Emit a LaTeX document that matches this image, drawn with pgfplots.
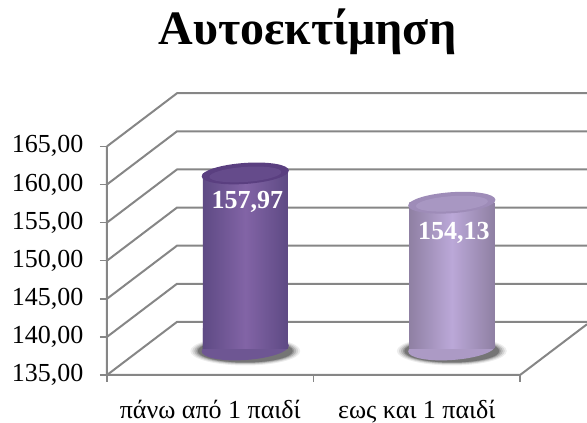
\documentclass[border=0pt]{standalone}
\usepackage{fontspec}
\setmainfont{Liberation Serif}
\usepackage{pgfplots}
\usetikzlibrary{shapes.geometric}
\pgfplotsset{compat=1.18}
\definecolor{gridc}{HTML}{868686}
\definecolor{c1e}{HTML}{5E4A84}
\definecolor{c1m}{HTML}{8264A6}
\definecolor{c1t}{HTML}{5A3F80}
\definecolor{c1b}{HTML}{654B8B}
\definecolor{c2e}{HTML}{8F80A3}
\definecolor{c2m}{HTML}{BBA8D8}
\definecolor{c2t}{HTML}{9E8CB8}
\definecolor{c2b}{HTML}{A897C2}
\pgfplotsset{
  cyl/.style={only marks,mark=none,xshift=35pt,yshift=26.5pt,
    nodes near coords={},
    every node near coord/.style={anchor=center,ellipse,inner sep=0pt,#1}},
}
\begin{document}
\begin{tikzpicture}[x=1pt,y=1pt]
\path[use as bounding box] (0,0) rectangle (587,423);
\node[font=\bfseries\fontsize{48}{52}\selectfont,anchor=base] at (307.5,378) {Αυτοεκτίμηση};
\begin{axis}[
  at={(107pt,48pt)},anchor=south west,
  width=480pt,height=282pt,scale only axis,
  xmin=0,xmax=2.324,ymin=135,ymax=172,
  clip=false,
  axis line style={draw=none},
  xtick={0.5,1.5},
  xticklabels={πάνω από 1 παιδί,εως και 1 παιδί},
  x tick style={draw=none},
  x tick label style={font=\fontsize{26}{28}\selectfont,yshift=-15pt},
  ytick={135,140,145,150,155,160,165},
  y tick style={draw=gridc,line width=1.5pt},
  tick align=outside,
  major tick length=7pt,
  tick pos=left,
  y tick label style={font=\fontsize{26}{28}\selectfont,xshift=-13pt},
  yticklabel style={/pgf/number format/.cd,fixed,fixed zerofill,precision=2,use comma,assume math mode=true},
  bar width=85pt,
]
% walls
\addplot[gridc,line width=2pt] coordinates {(0,135) (0.339,141.97) (2.324,141.97)};
\addplot[gridc,line width=2pt] coordinates {(0,140) (0.339,146.97) (2.324,146.97)};
\addplot[gridc,line width=2pt] coordinates {(0,145) (0.339,151.97) (2.324,151.97)};
\addplot[gridc,line width=2pt] coordinates {(0,150) (0.339,156.97) (2.324,156.97)};
\addplot[gridc,line width=2pt] coordinates {(0,155) (0.339,161.97) (2.324,161.97)};
\addplot[gridc,line width=2pt] coordinates {(0,160) (0.339,166.97) (2.324,166.97)};
\addplot[gridc,line width=2pt] coordinates {(0,165) (0.339,171.97) (2.324,171.97)};
\addplot[gridc,line width=2pt] coordinates {(0,165) (0,135) (2,135) (2.324,141.66)};
\addplot[gridc,line width=1.5pt] coordinates {(0,135) (0,134.1)};
\addplot[gridc,line width=1.5pt] coordinates {(1,135) (1,134.1)};
\addplot[gridc,line width=1.5pt] coordinates {(2,135) (2,134.1)};
% bodies
\addplot[ybar,bar shift=0pt,draw=none,left color=c1e,right color=c1e,middle color=c1m,xshift=35pt,yshift=26.5pt] coordinates {(0.5,157.97)};
\addplot[ybar,bar shift=0pt,draw=none,left color=c2e,right color=c2e,middle color=c2m,xshift=35pt,yshift=26.5pt] coordinates {(1.5,154.13)};
% shadows
\addplot[cyl={fill=black,fill opacity=0.07,minimum width=110pt,minimum height=29pt,yshift=-2.5pt}] coordinates {(0.5,135) (1.5,135)};
\addplot[cyl={fill=black,fill opacity=0.10,minimum width=106pt,minimum height=27pt,yshift=-2.5pt}] coordinates {(0.5,135) (1.5,135)};
\addplot[cyl={fill=black,fill opacity=0.14,minimum width=102pt,minimum height=25.5pt,yshift=-2.5pt}] coordinates {(0.5,135) (1.5,135)};
\addplot[cyl={fill=black,fill opacity=0.18,minimum width=98pt,minimum height=24pt,yshift=-2.5pt}] coordinates {(0.5,135) (1.5,135)};
\addplot[cyl={fill=black,fill opacity=0.22,minimum width=95pt,minimum height=23pt,yshift=-2.5pt}] coordinates {(0.5,135) (1.5,135)};
% bottoms
\addplot[cyl={rotate=4,fill=c1e!55!c1m,minimum width=87.4pt,minimum height=23pt}] coordinates {(0.5,135)};
\addplot[cyl={rotate=4,fill=c2e!35!c2m,minimum width=87.4pt,minimum height=23pt}] coordinates {(1.5,135)};
% body patches over the upper half of the bottoms and the shadows
\addplot[cyl={rectangle,anchor=south,left color=c1e,right color=c1e,middle color=c1m,minimum width=85pt,minimum height=20pt}] coordinates {(0.5,135)};
\addplot[cyl={rectangle,anchor=south,left color=c2e,right color=c2e,middle color=c2m,minimum width=85pt,minimum height=20pt}] coordinates {(1.5,135)};
% tops
\addplot[cyl={rotate=4,fill=c1t,minimum width=87.4pt,minimum height=21pt}] coordinates {(0.5,157.97)};
\addplot[cyl={rotate=4,fill=c1b,minimum width=72pt,minimum height=15pt,yshift=-1pt}] coordinates {(0.5,157.97)};
\addplot[cyl={rotate=4,fill=c2t,minimum width=87.4pt,minimum height=21pt}] coordinates {(1.5,154.13)};
\addplot[cyl={rotate=4,fill=c2b,minimum width=72pt,minimum height=15pt,yshift=-1pt}] coordinates {(1.5,154.13)};
% labels
\addplot[only marks,mark=none,xshift=37pt,yshift=26.5pt,
  nodes near coords,point meta=explicit symbolic,
  every node near coord/.style={anchor=center,yshift=-28pt,text=white,font=\bfseries\fontsize{26}{28}\selectfont}]
  coordinates {(0.5,157.97) [157,97]};
\addplot[only marks,mark=none,xshift=37pt,yshift=26.5pt,
  nodes near coords,point meta=explicit symbolic,
  every node near coord/.style={anchor=center,yshift=-30pt,text=white,font=\bfseries\fontsize{26}{28}\selectfont}]
  coordinates {(1.5,154.13) [154,13]};
\end{axis}
\end{tikzpicture}
\end{document}
